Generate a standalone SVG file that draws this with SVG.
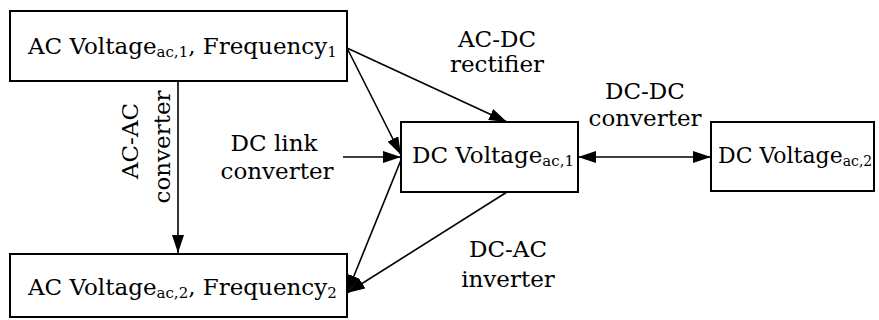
<svg xmlns="http://www.w3.org/2000/svg" width="879" height="320" viewBox="0 0 879 320">
<style>
.box{fill:#fff;stroke:#000;stroke-width:2}
.t{font-family:"DejaVu Serif","Liberation Serif",serif;font-size:23px;fill:#000}
.s{font-size:15px}
.c{text-anchor:middle}
.ln{stroke:#000;stroke-width:1.6;fill:none}
</style>
<defs>
<marker id="ah" markerUnits="userSpaceOnUse" markerWidth="18" markerHeight="12" refX="18" refY="6" orient="auto-start-reverse">
<path d="M0,0 L18,6 L0,12 Z" fill="#000"/>
</marker>
</defs>
<rect width="879" height="320" fill="#fff"/>
<g id="connectors">
<line class="ln" x1="178" y1="81" x2="178" y2="253" marker-end="url(#ah)"/>
<line class="ln" x1="347" y1="48" x2="507" y2="122" marker-end="url(#ah)"/>
<line class="ln" x1="347" y1="48" x2="401" y2="155" marker-end="url(#ah)"/>
<line class="ln" x1="343" y1="157" x2="401" y2="157" marker-end="url(#ah)"/>
<line class="ln" x1="578" y1="157" x2="711" y2="157" marker-start="url(#ah)" marker-end="url(#ah)"/>
<line class="ln" x1="401" y1="160" x2="347" y2="293" marker-end="url(#ah)"/>
<line class="ln" x1="507" y1="192" x2="347" y2="293" marker-end="url(#ah)"/>
</g>
<g id="ac1">
<rect class="box" x="10" y="11" width="337" height="70"/>
<text class="t" x="28" y="54">AC Voltage<tspan class="s" dy="3">ac,1</tspan><tspan dy="-3">, Frequency</tspan><tspan class="s" dy="3">1</tspan></text>
</g>
<g id="ac2">
<rect class="box" x="10" y="254" width="337" height="63"/>
<text class="t" x="28" y="295">AC Voltage<tspan class="s" dy="3">ac,2</tspan><tspan dy="-3">, Frequency</tspan><tspan class="s" dy="3">2</tspan></text>
</g>
<g id="dc1">
<rect class="box" x="401" y="122" width="177" height="70"/>
<text class="t" x="412" y="163">DC Voltage<tspan class="s" dy="3">ac,1</tspan></text>
</g>
<g id="dc2">
<rect class="box" x="711" y="122" width="163" height="69"/>
<text class="t" x="718" y="163" style="font-size:22px">DC Voltage<tspan style="font-size:14px" dy="3">ac,2</tspan></text>
</g>
<g id="labels">
<text class="t c" x="497" y="47">AC-DC</text>
<text class="t c" x="497" y="72">rectifier</text>
<text class="t c" x="645" y="99">DC-DC</text>
<text class="t c" x="645" y="126">converter</text>
<text class="t c" x="274" y="151">DC link</text>
<text class="t c" x="277" y="179">converter</text>
<text class="t c" x="508" y="257">DC-AC</text>
<text class="t c" x="508" y="287">inverter</text>
<text class="t c" transform="translate(138,141) rotate(-90)">AC-AC</text>
<text class="t c" transform="translate(170,147) rotate(-90)">converter</text>
</g>
</svg>
